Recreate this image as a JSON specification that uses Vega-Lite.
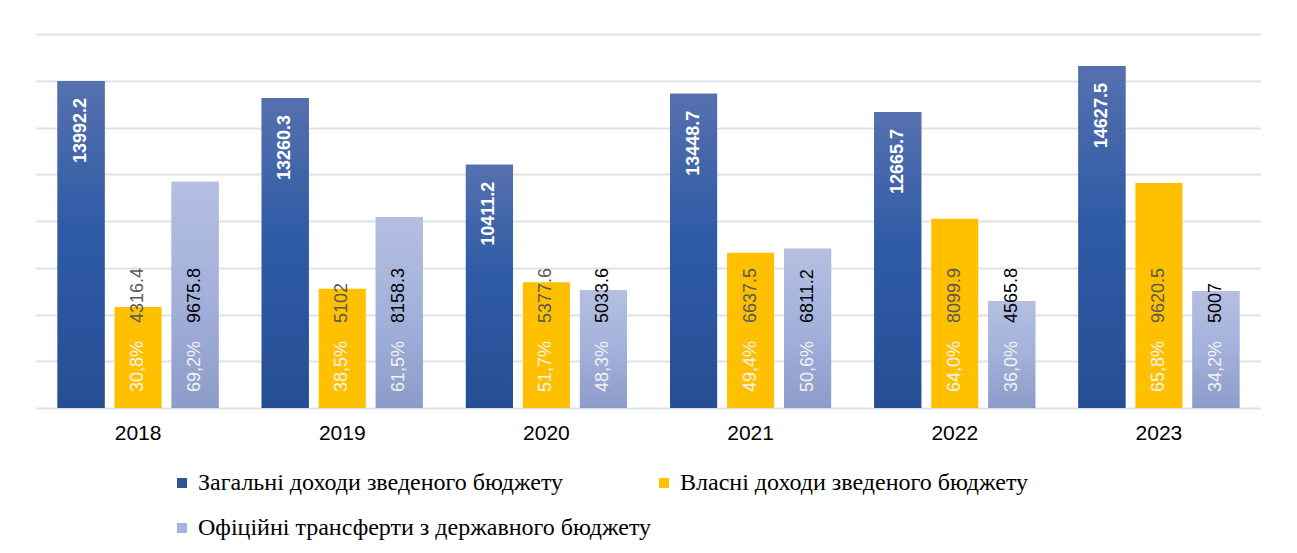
{
  "$schema": "https://vega.github.io/schema/vega-lite/v6.json",
  "width": 1225,
  "height": 374,
  "padding": {"left": 36, "top": 34, "right": 0, "bottom": 0},
  "background": "white",
  "config": {
    "view": {"stroke": null},
    "font": "Liberation Sans"
  },
  "data": {
    "values": [
      {"year": "2018", "series": "Загальні доходи зведеного бюджету", "value": 13992.2, "pct": null},
      {"year": "2018", "series": "Власні доходи зведеного бюджету", "value": 4316.4, "pct": "30,8%"},
      {"year": "2018", "series": "Офіційні трансферти з державного бюджету", "value": 9675.8, "pct": "69,2%"},
      {"year": "2019", "series": "Загальні доходи зведеного бюджету", "value": 13260.3, "pct": null},
      {"year": "2019", "series": "Власні доходи зведеного бюджету", "value": 5102, "pct": "38,5%"},
      {"year": "2019", "series": "Офіційні трансферти з державного бюджету", "value": 8158.3, "pct": "61,5%"},
      {"year": "2020", "series": "Загальні доходи зведеного бюджету", "value": 10411.2, "pct": null},
      {"year": "2020", "series": "Власні доходи зведеного бюджету", "value": 5377.6, "pct": "51,7%"},
      {"year": "2020", "series": "Офіційні трансферти з державного бюджету", "value": 5033.6, "pct": "48,3%"},
      {"year": "2021", "series": "Загальні доходи зведеного бюджету", "value": 13448.7, "pct": null},
      {"year": "2021", "series": "Власні доходи зведеного бюджету", "value": 6637.5, "pct": "49,4%"},
      {"year": "2021", "series": "Офіційні трансферти з державного бюджету", "value": 6811.2, "pct": "50,6%"},
      {"year": "2022", "series": "Загальні доходи зведеного бюджету", "value": 12665.7, "pct": null},
      {"year": "2022", "series": "Власні доходи зведеного бюджету", "value": 8099.9, "pct": "64,0%"},
      {"year": "2022", "series": "Офіційні трансферти з державного бюджету", "value": 4565.8, "pct": "36,0%"},
      {"year": "2023", "series": "Загальні доходи зведеного бюджету", "value": 14627.5, "pct": null},
      {"year": "2023", "series": "Власні доходи зведеного бюджету", "value": 9620.5, "pct": "65,8%"},
      {"year": "2023", "series": "Офіційні трансферти з державного бюджету", "value": 5007, "pct": "34,2%"}
    ]
  },
  "encoding": {
    "x": {
      "field": "year", "type": "nominal",
      "scale": {"paddingInner": 0, "paddingOuter": 0},
      "axis": {"title": null, "domain": false, "ticks": false, "labelAngle": 0, "labelFontSize": 21, "labelColor": "#000000", "labelPadding": 14, "labelFont": "Liberation Sans"}
    },
    "xOffset": {
      "field": "series", "type": "nominal",
      "scale": {"domain": ["Загальні доходи зведеного бюджету", "Власні доходи зведеного бюджету", "Офіційні трансферти з державного бюджету"], "paddingInner": 0.175, "paddingOuter": 0.378}
    },
    "y": {
      "field": "value", "type": "quantitative",
      "scale": {"domain": [0, 16000], "nice": false},
      "axis": {"title": null, "domain": false, "ticks": false, "labels": false, "values": [0, 2000, 4000, 6000, 8000, 10000, 12000, 14000, 16000], "grid": true, "gridColor": "#dfe1e8", "gridWidth": 2}
    }
  },
  "layer": [
    {
      "mark": {"type": "bar"},
      "encoding": {
        "color": {
          "field": "series", "type": "nominal",
          "scale": {"domain": ["Загальні доходи зведеного бюджету", "Власні доходи зведеного бюджету", "Офіційні трансферти з державного бюджету"], "range": ["#2f5597", "#ffc000", "#a3b1db"]},
          "legend": {
            "title": null, "orient": "none", "legendX": 134, "legendY": 437,
            "direction": "horizontal", "columns": 2, "columnPadding": 0, "rowPadding": 21,
            "symbolType": "square", "symbolSize": 100, "symbolStrokeWidth": 0, "symbolOffset": 0,
            "labelFont": "Liberation Serif", "labelFontSize": 24, "labelColor": "#000000", "labelOffset": 4, "labelLimit": 700
          }
        }
      }
    },
    {
      "transform": [{"filter": "datum.series === 'Загальні доходи зведеного бюджету'"}],
      "mark": {"type": "bar", "fill": {"gradient": "linear", "x1": 0, "y1": 0, "x2": 0, "y2": 1, "stops": [{"offset": 0, "color": "#5670ae"}, {"offset": 0.45, "color": "#2f5ba6"}, {"offset": 1, "color": "#264e94"}]}}
    },
    {
      "transform": [{"filter": "datum.series === 'Офіційні трансферти з державного бюджету'"}],
      "mark": {"type": "bar", "fill": {"gradient": "linear", "x1": 0, "y1": 0, "x2": 0, "y2": 1, "stops": [{"offset": 0, "color": "#b4bfe1"}, {"offset": 0.5, "color": "#a3b1db"}, {"offset": 1, "color": "#8c9cc8"}]}}
    },
    {
      "transform": [{"filter": "datum.series === 'Загальні доходи зведеного бюджету'"}],
      "mark": {"type": "text", "angle": 270, "align": "right", "baseline": "middle", "dx": -17, "fontSize": 18, "fontWeight": "bold", "color": "#ffffff", "font": "Liberation Sans"},
      "encoding": {"text": {"field": "value", "type": "nominal"}}
    },
    {
      "transform": [{"filter": "datum.pct != null"}],
      "mark": {"type": "text", "angle": 270, "align": "left", "baseline": "middle", "dx": 16, "fontSize": 18, "color": "#f2f2f2", "font": "Liberation Sans"},
      "encoding": {"y": {"datum": 0}, "text": {"field": "pct", "type": "nominal"}}
    },
    {
      "transform": [{"filter": "datum.series === 'Власні доходи зведеного бюджету'"}],
      "mark": {"type": "text", "angle": 270, "align": "left", "baseline": "middle", "dx": 85, "fontSize": 18, "color": "#595959", "font": "Liberation Sans"},
      "encoding": {"y": {"datum": 0}, "text": {"field": "value", "type": "nominal"}}
    },
    {
      "transform": [{"filter": "datum.series === 'Офіційні трансферти з державного бюджету'"}],
      "mark": {"type": "text", "angle": 270, "align": "left", "baseline": "middle", "dx": 85, "fontSize": 18, "color": "#000000", "font": "Liberation Sans"},
      "encoding": {"y": {"datum": 0}, "text": {"field": "value", "type": "nominal"}}
    }
  ]
}
